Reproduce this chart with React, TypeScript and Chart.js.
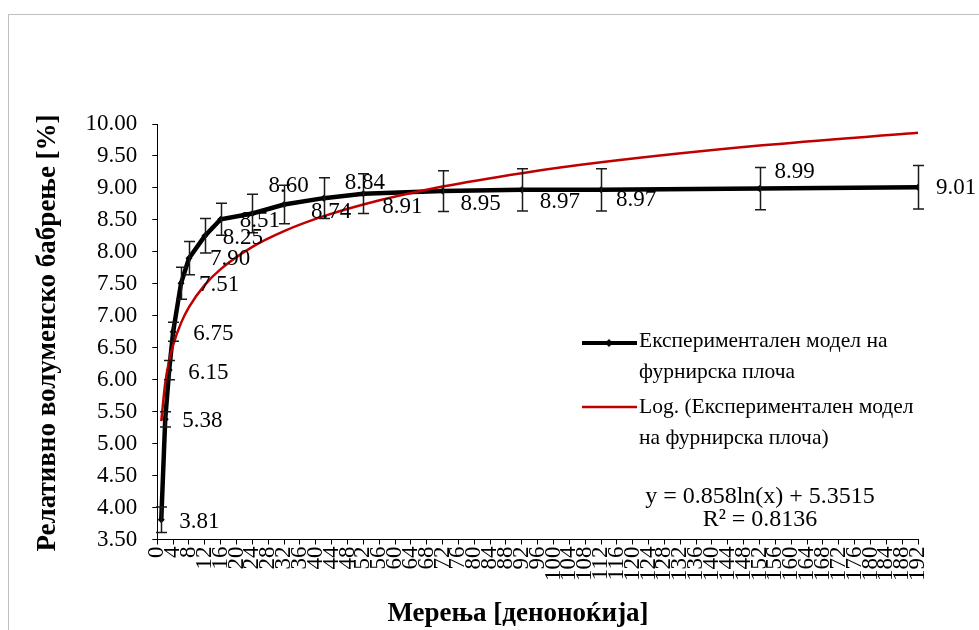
import React, { useEffect, useRef } from "react";
import { Chart, registerables } from "chart.js";

Chart.register(...registerables);

// ---- data ----
const DAYS = [1, 2, 3, 4, 6, 8, 12, 16, 24, 32, 42, 52, 72, 92, 112, 152, 192];
const SWELLING = [3.81, 5.38, 6.15, 6.75, 7.51, 7.9, 8.25, 8.51, 8.6, 8.74, 8.84, 8.91, 8.95, 8.97, 8.97, 8.99, 9.01];
const ERRORS = [0.2, 0.12, 0.15, 0.15, 0.25, 0.26, 0.27, 0.25, 0.3, 0.3, 0.32, 0.31, 0.32, 0.33, 0.33, 0.33, 0.34];
const TREND_SLOPE = 0.858;
const TREND_INTERCEPT = 5.3515;
const TREND_R2 = "0.8136";

const X_MIN = 0;
const X_MAX = 192;
const X_STEP = 4;
const Y_MIN = 3.5;
const Y_MAX = 10;
const Y_STEP = 0.5;

const SERIES_LABEL_LINES = ["Експериментален модел на", "фурнирска плоча"];
const TREND_LABEL_LINES = ["Log. (Експериментален модел", "на фурнирска плоча)"];
const EQUATION_LINES = ["y = 0.858ln(x) + 5.3515", "R² = " + TREND_R2];
const X_TITLE = "Мерења [деноноќија]";
const Y_TITLE = "Релативно волуменско бабрење [%]";

// data-label offsets (pixels, relative to the point)
const LABEL_DX = [18, 17, 19, 20, 18, 21, 18, 19, 16, 27, 21, 19, 18, 18, 15, 15, 18];
const LABEL_DY = [2, 2, 3, 2, 2, 1, 2, 2, -28, 7, -15, 13, 13, 12, 10, -17, 1];

const FONT = "'Liberation Serif', 'Times New Roman', serif";
const RED = "#c00000";

const decorPlugin = {
  id: "decor",
  beforeDraw(chart: any) {
    const { ctx, width, height } = chart;
    ctx.save();
    ctx.fillStyle = "#ffffff";
    ctx.fillRect(0, 0, width, height);
    ctx.strokeStyle = "#bfbfbf";
    ctx.lineWidth = 1;
    ctx.strokeRect(8.5, 14.5, width + 10, height + 10);
    ctx.restore();
  },
  afterDatasetsDraw(chart: any) {
    const { ctx } = chart;
    const xs = chart.scales.x;
    const ys = chart.scales.y;
    // error bars
    ctx.save();
    ctx.strokeStyle = "#1a1a1a";
    ctx.lineWidth = 1.5;
    SWELLING.forEach((v, i) => {
      const px = Math.round(xs.getPixelForValue(DAYS[i])) + 0.5;
      const top = ys.getPixelForValue(v + ERRORS[i]);
      const bot = ys.getPixelForValue(v - ERRORS[i]);
      ctx.beginPath();
      ctx.moveTo(px, top);
      ctx.lineTo(px, bot);
      ctx.moveTo(px - 5.5, top);
      ctx.lineTo(px + 5.5, top);
      ctx.moveTo(px - 5.5, bot);
      ctx.lineTo(px + 5.5, bot);
      ctx.stroke();
    });
    ctx.restore();
  },
  afterDraw(chart: any) {
    const { ctx } = chart;
    const xs = chart.scales.x;
    const ys = chart.scales.y;
    ctx.save();
    // data labels
    ctx.fillStyle = "#000";
    ctx.font = `23px ${FONT}`;
    ctx.textAlign = "left";
    ctx.textBaseline = "middle";
    SWELLING.forEach((v, i) => {
      const px = xs.getPixelForValue(DAYS[i]);
      const py = ys.getPixelForValue(v);
      ctx.fillText(v.toFixed(2), px + LABEL_DX[i], py + LABEL_DY[i]);
    });

    // legend
    ctx.lineCap = "butt";
    ctx.strokeStyle = "#000";
    ctx.lineWidth = 4;
    ctx.beginPath();
    ctx.moveTo(582, 343);
    ctx.lineTo(637, 343);
    ctx.stroke();
    ctx.fillStyle = "#000";
    ctx.beginPath();
    ctx.moveTo(609, 339);
    ctx.lineTo(613, 343);
    ctx.lineTo(609, 347);
    ctx.lineTo(605, 343);
    ctx.closePath();
    ctx.fill();
    ctx.strokeStyle = RED;
    ctx.lineWidth = 2.5;
    ctx.beginPath();
    ctx.moveTo(582, 407);
    ctx.lineTo(637, 407);
    ctx.stroke();

    ctx.font = `21.5px ${FONT}`;
    ctx.fillStyle = "#000";
    ctx.fillText(SERIES_LABEL_LINES[0], 639, 341);
    ctx.fillText(SERIES_LABEL_LINES[1], 639, 372);
    ctx.fillText(TREND_LABEL_LINES[0], 639, 407);
    ctx.fillText(TREND_LABEL_LINES[1], 639, 438);

    // equation
    ctx.textAlign = "center";
    ctx.font = `24px ${FONT}`;
    ctx.fillText(EQUATION_LINES[0], 760, 497);
    ctx.fillText(EQUATION_LINES[1], 760, 520);

    // axis titles
    ctx.font = `bold 27px ${FONT}`;
    ctx.fillText(X_TITLE, 518, 614);
    ctx.translate(48, 333);
    ctx.rotate(-Math.PI / 2);
    ctx.fillText(Y_TITLE, 0, 0);
    ctx.restore();
  },
};

export default function App() {
  const canvasRef = useRef<HTMLCanvasElement | null>(null);

  useEffect(() => {
    const canvas = canvasRef.current;
    if (!canvas) return;
    const chart = new Chart(canvas, {
      type: "line",
      data: {
        datasets: [
          {
            label: TREND_LABEL_LINES.join(" "),
            data: DAYS.map((d) => ({ x: d, y: TREND_INTERCEPT + TREND_SLOPE * Math.log(d) })),
            borderColor: RED,
            borderWidth: 2.5,
            pointRadius: 0,
            cubicInterpolationMode: "monotone",
            fill: false,
            order: 0,
          },
          {
            label: SERIES_LABEL_LINES.join(" "),
            data: DAYS.map((d, i) => ({ x: d, y: SWELLING[i] })),
            borderColor: "#000",
            backgroundColor: "#000",
            borderWidth: 4.5,
            pointStyle: "rectRot",
            pointRadius: 3.5,
            pointBorderWidth: 0,
            pointBackgroundColor: "#000",
            tension: 0,
            fill: false,
            order: 1,
          },
        ],
      } as any,
      options: {
        responsive: false,
        animation: false,
        devicePixelRatio: 1,
        layout: { padding: { top: 124, right: 61, left: 0, bottom: 0 } },
        plugins: { legend: { display: false }, tooltip: { enabled: false }, title: { display: false } },
        scales: {
          x: {
            type: "linear",
            min: X_MIN,
            max: X_MAX,
            afterFit: (s: any) => {
              s.height = 90.5;
            },
            ticks: {
              stepSize: X_STEP,
              autoSkip: false,
              minRotation: 90,
              maxRotation: 90,
              padding: 2,
              color: "#000",
              font: { family: FONT, size: 23 },
            },
            grid: { drawOnChartArea: false, drawTicks: true, tickLength: 5, color: "#000" },
            border: { color: "#000", width: 1 },
          },
          y: {
            type: "linear",
            min: Y_MIN,
            max: Y_MAX,
            afterFit: (s: any) => {
              s.width = 157.3;
            },
            ticks: {
              stepSize: Y_STEP,
              padding: 15,
              color: "#000",
              font: { family: FONT, size: 23 },
              callback: (v: any) => Number(v).toFixed(2),
            },
            grid: { drawOnChartArea: false, drawTicks: true, tickLength: 5, color: "#000" },
            border: { color: "#000", width: 1 },
          },
        },
      } as any,
      plugins: [decorPlugin],
    });
    return () => chart.destroy();
  }, []);

  return (
    <div style={{ position: "fixed", left: 0, top: 0, width: 979, height: 630, background: "#fff" }}>
      <canvas ref={canvasRef} width={979} height={630} style={{ display: "block" }} />
    </div>
  );
}
